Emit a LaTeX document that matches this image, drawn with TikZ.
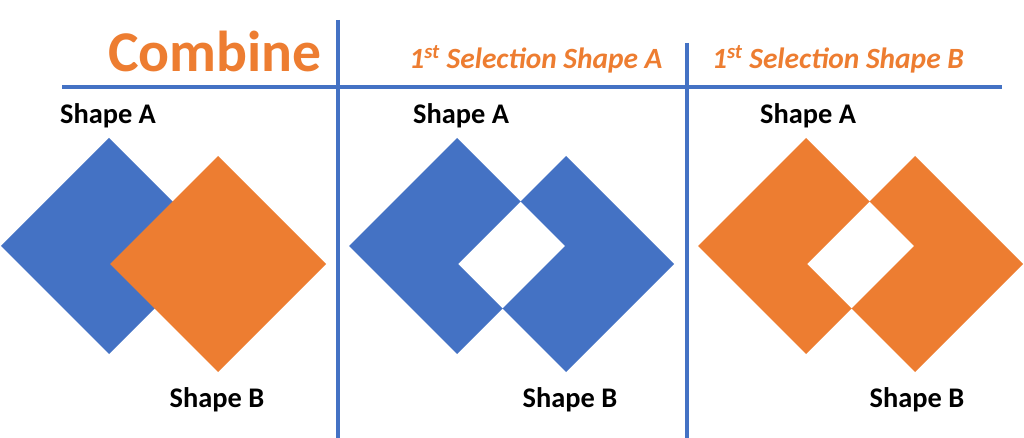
\documentclass[tikz,border=0pt]{standalone}
\usepackage{fontspec}
\setmainfont{Carlito}
\definecolor{officeblue}{HTML}{4472C4}
\definecolor{officeorange}{HTML}{ED7D31}

\begin{document}
\begin{tikzpicture}[x=0.025cm,y=-0.025cm]
	\tikzset{rule/.style={draw=officeblue,line width=3.2pt},
		shapelabel/.style={anchor=base,font=\fontsize{20.2}{24}\selectfont\bfseries},
		heading/.style={anchor=base,text=officeorange,font=\fontsize{20.9}{25}\selectfont\bfseries\itshape}}
	\useasboundingbox (0,0) rectangle (1024,438);
	% grid lines
	\draw[rule] (62,87) coordinate (L) -- (1002,87) coordinate (R);
	\draw[rule] (338,20) coordinate (T1) -- (338,438) coordinate (B1);
	\draw[rule] (687,43) coordinate (T2) -- (687,438) coordinate (B2);
	% headings
	\node[anchor=base,text=officeorange,font=\fontsize{41}{48}\selectfont\bfseries] (combine) at (215,72) {Combine};
	\node[heading] (selA) at (536,69) {1\textsuperscript{st} Selection Shape A};
	\node[heading] (selB) at (838,69) {1\textsuperscript{st} Selection Shape B};
	% combine: B over A
	\fill[officeblue] (109,246) ++(-108,0) -- ++(108,-108) -- ++(108,108) -- ++(-108,108) -- cycle;
	\fill[officeorange] (218,264) ++(-108,0) -- ++(108,-108) -- ++(108,108) -- ++(-108,108) -- cycle;
	% selections: overlap cut out
	\foreach \dx/\col in {348/officeblue, 697/officeorange}
		\fill[\col,even odd rule] (109+\dx,246) ++(-108,0) -- ++(108,-108) -- ++(108,108) -- ++(-108,108) -- cycle
			(218+\dx,264) ++(-108,0) -- ++(108,-108) -- ++(108,108) -- ++(-108,108) -- cycle;
	\foreach \i/\xa/\xb in {1/108/217, 2/461/570, 3/808/917}{
		\node[shapelabel] (sa\i) at (\xa,124) {Shape A};
		\node[shapelabel] (sb\i) at (\xb,407) {Shape B};
	}
\end{tikzpicture}
\end{document}
